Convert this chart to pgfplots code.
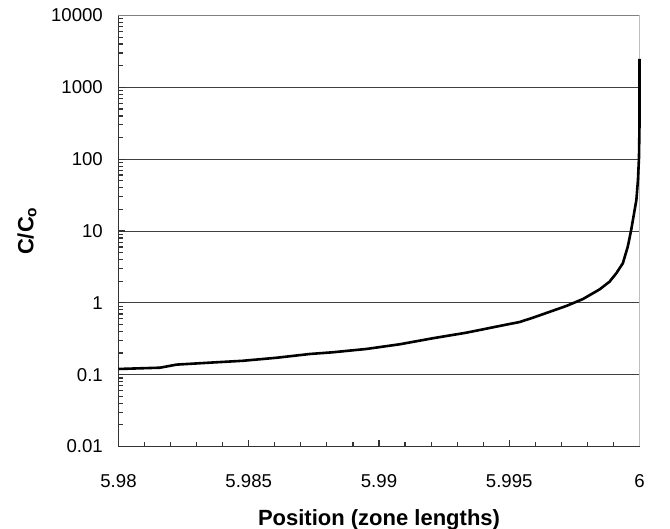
\documentclass[border=0pt]{standalone}
\usepackage{pgfplots}
\pgfplotsset{compat=1.18}
\usepackage{fontspec}
\setmainfont{Liberation Sans}
\newcommand{\ts}[1]{\mbox{\fontsize{18.6}{20}\selectfont #1}}
\begin{document}
\begin{tikzpicture}
\begin{axis}[
 at={(0,0)}, anchor=south west,
 scale only axis, width=521pt, height=431pt,
 xmin=5.98, xmax=6, ymode=log, ymin=0.01, ymax=10000,
 clip=false,
 axis x line*=bottom, axis y line*=left,
 axis line style={black!80, line width=1.6pt},
 xtick={5.98,5.985,5.99,5.995,6},
 xticklabels={\ts{5.98},\ts{5.985},\ts{5.99},\ts{5.995},\ts{6}},
 minor x tick num=4,
 ytick={0.01,0.1,1,10,100,1000,10000},
 yticklabels={\ts{0.01},\ts{0.1},\ts{1},\ts{10},\ts{100},\ts{1000},\ts{10000}},
 ymajorgrids, grid style={black!75, line width=0.9pt},
 tick align=inside,
 major tick length=7pt, minor tick length=5pt,
 every tick/.style={black!80, line width=1.2pt},
 xticklabel style={anchor=base, yshift=-40.8pt, inner sep=0pt},
 yticklabel style={anchor=east, xshift=-15.5pt, inner sep=0pt},
 xlabel={Position (zone lengths)},
 ylabel={C/C\textsubscript{o}},
 label style={font=\fontsize{22}{24}\selectfont\bfseries},
 xlabel style={at={(axis description cs:0.5,0)}, anchor=base, yshift=-79.5pt},
 ylabel style={at={(axis description cs:-0.1635,0.5)}, anchor=base},
]
\draw[black!50, line width=1.2pt] (rel axis cs:0,1) -- (rel axis cs:1,1);
\draw[black!25, line width=1.2pt] (rel axis cs:1,0) -- (rel axis cs:1,1);
\addplot[black, line width=2.6pt, line join=round] coordinates {
(5.98,0.120)
(5.98159,0.125)
(5.98223,0.138)
(5.98351,0.147)
(5.98477,0.156)
(5.98607,0.172)
(5.98734,0.194)
(5.98823,0.205)
(5.98952,0.228)
(5.99080,0.265)
(5.99206,0.321)
(5.99335,0.384)
(5.99463,0.476)
(5.99540,0.541)
(5.99591,0.621)
(5.99719,0.904)
(5.99783,1.13)
(5.99847,1.54)
(5.99885,1.97)
(5.99911,2.58)
(5.99936,3.55)
(5.99955,6.05)
(5.99968,10.3)
(5.99988,27)
(5.99994,51)
(5.99998,104)
(6.0,300)
(6.0,2480)
};
\end{axis}
\pgfresetboundingbox
\useasboundingbox (-118.5pt,-82.5pt) rectangle (551.5pt,446.5pt);
\end{tikzpicture}
\end{document}
